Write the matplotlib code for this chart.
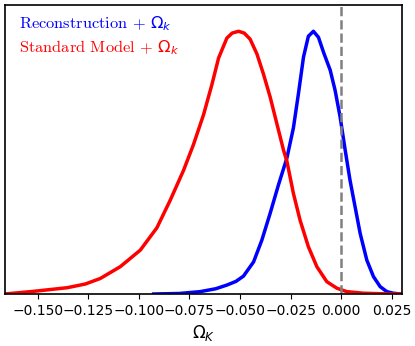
import matplotlib
matplotlib.use("Agg")
import matplotlib.pyplot as plt
import numpy as np

# posterior curves (normalised to peak = 1)
recon_x = [-0.0927, -0.0800, -0.0697, -0.0620, -0.0565, -0.0520, -0.0483, -0.0433,
           -0.0392, -0.0351, -0.0310, -0.0268, -0.0236, -0.0211, -0.0186, -0.0162,
           -0.0137, -0.0112, -0.0087, -0.0054, -0.0030, -0.0005, 0.0020, 0.0044,
           0.0069, 0.0094, 0.0127, 0.0160, 0.0193, 0.0226, 0.0258, 0.0292]
recon_y = [0.0, 0.002, 0.009, 0.02, 0.034, 0.048, 0.068, 0.122,
           0.205, 0.307, 0.415, 0.518, 0.632, 0.763, 0.902, 0.981,
           1.0, 0.977, 0.92, 0.852, 0.776, 0.674, 0.548, 0.433,
           0.332, 0.231, 0.129, 0.066, 0.028, 0.009, 0.003, 0.0]

std_x = [-0.1662, -0.1522, -0.1354, -0.1265, -0.1191, -0.1092, -0.0993, -0.0911,
         -0.0845, -0.0779, -0.0730, -0.0680, -0.0639, -0.0606, -0.0565, -0.0539,
         -0.0507, -0.0479, -0.0450, -0.0416, -0.0384, -0.0351, -0.0318, -0.0285,
         -0.0268, -0.0236, -0.0203, -0.0162, -0.0120, -0.0071, -0.0021, 0.0028,
         0.0110, 0.0242, 0.0301]
std_y = [0.0, 0.01, 0.024, 0.038, 0.059, 0.104, 0.167, 0.252,
         0.357, 0.471, 0.569, 0.683, 0.797, 0.898, 0.974, 0.993,
         1.0, 0.993, 0.97, 0.913, 0.837, 0.75, 0.649, 0.548,
         0.505, 0.383, 0.281, 0.18, 0.104, 0.047, 0.022, 0.009,
         0.003, 0.0, 0.0]

labels = [r"Reconstruction + $\Omega_k$", r"Standard Model + $\Omega_k$"]
colors = ["blue", "red"]

fig = plt.figure(figsize=(4.15, 3.46), dpi=100)
ax = fig.add_axes([5 / 415, 1 - 294 / 346, 397 / 415, 289 / 346])

ax.plot(recon_x, recon_y, color=colors[0], lw=2.5, label=labels[0])
ax.plot(std_x, std_y, color=colors[1], lw=2.5, label=labels[1])
ax.axvline(0.0, color="grey", ls="--", lw=1.8)

ax.set_xlim(-0.1662, 0.0301)
ax.set_ylim(0, 1.1)
ax.set_yticks([])
ax.set_xticks([-0.150, -0.125, -0.100, -0.075, -0.050, -0.025, 0.000, 0.025])
ax.tick_params(axis="x", labelsize=10)
ax.set_xlabel(r"$\Omega_K$", fontsize=12)
for s in ax.spines.values():
    s.set_linewidth(1.2)

leg = ax.legend(loc="upper left", bbox_to_anchor=(0.02, 0.99), frameon=False,
                handlelength=0, handletextpad=0, borderaxespad=0,
                prop={"family": "cmr10", "size": 11.8}, labelspacing=0.3)
for h, t, c in zip(leg.legend_handles, leg.get_texts(), colors):
    h.set_visible(False)
    t.set_color(c)

fig.savefig("out.png", dpi=100)
